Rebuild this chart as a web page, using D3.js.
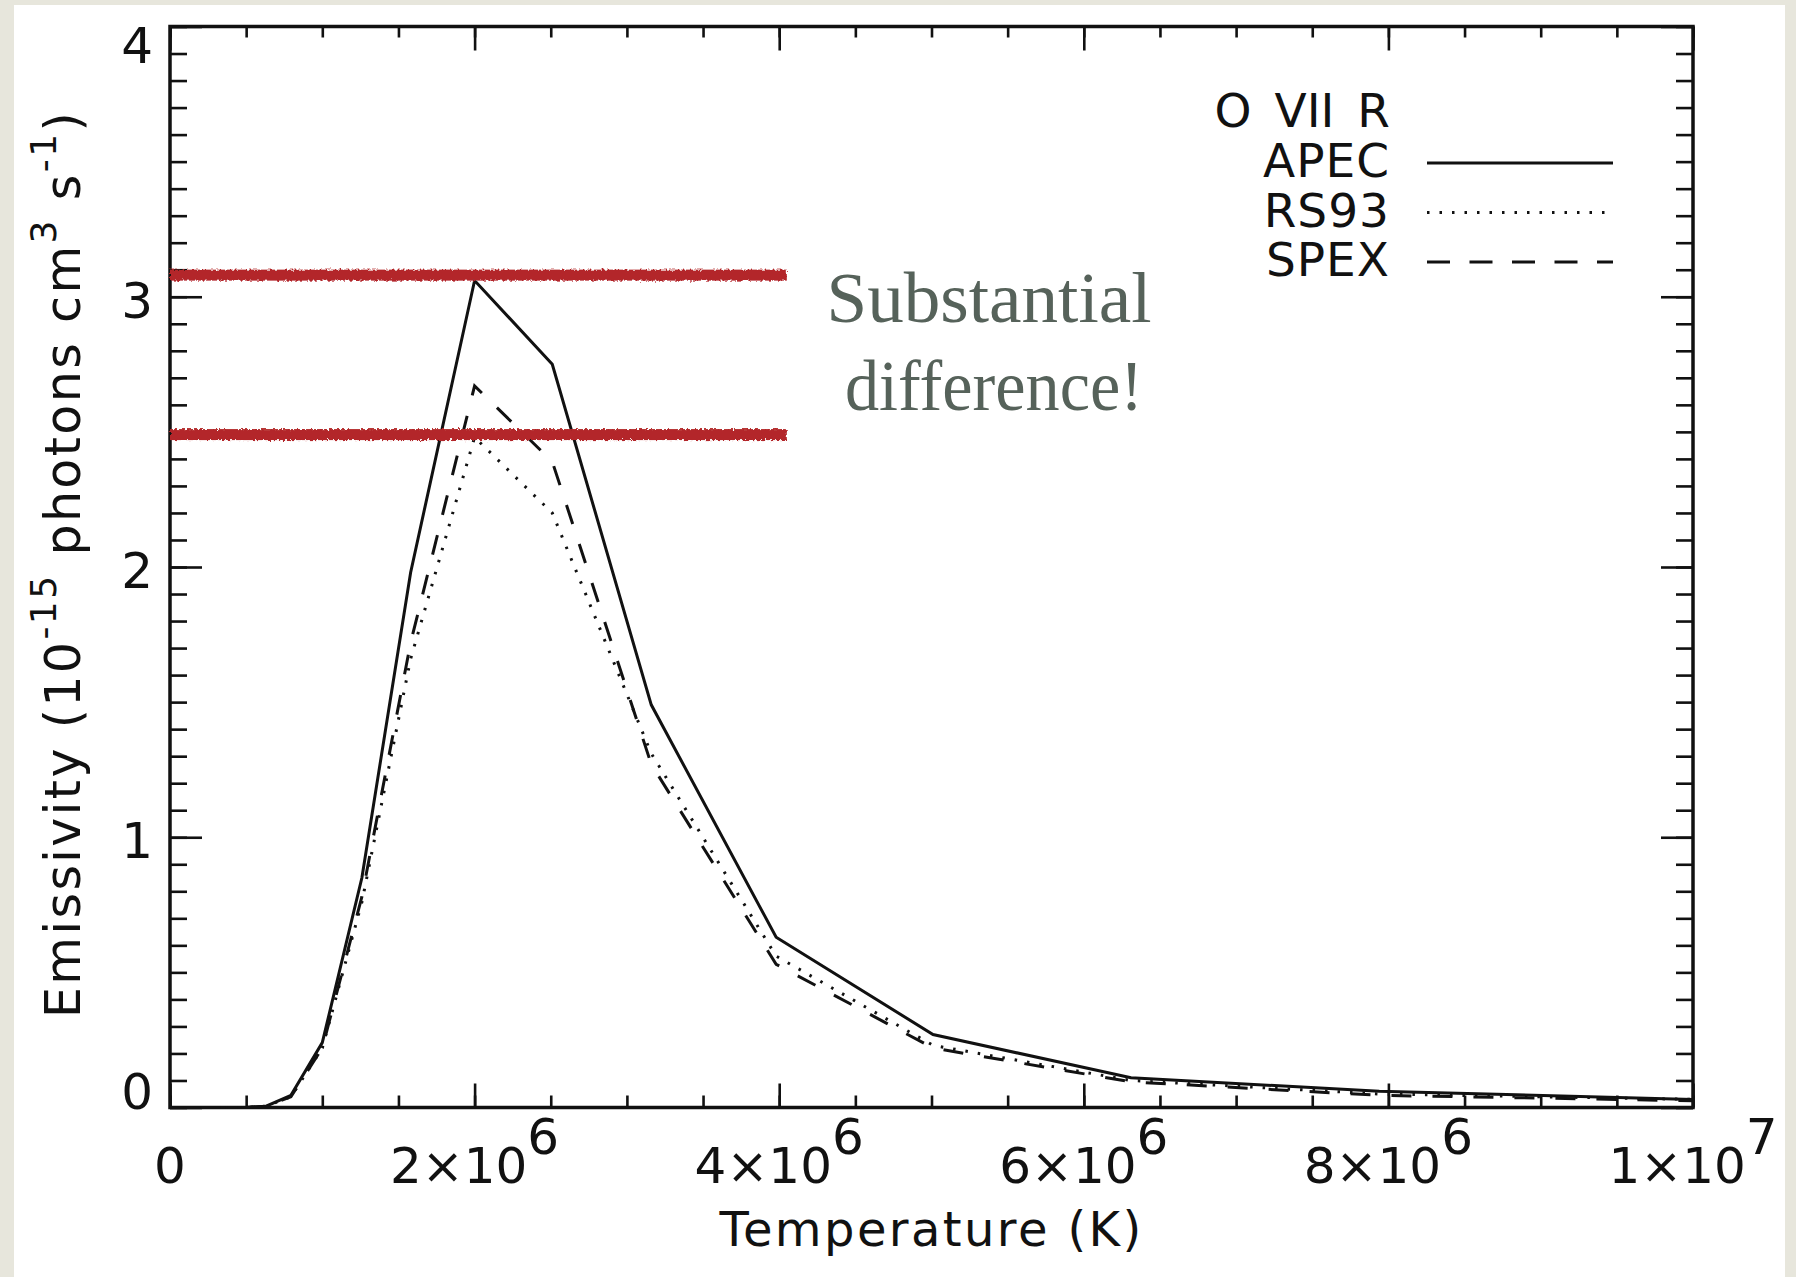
<!DOCTYPE html>
<html>
<head>
<meta charset="utf-8">
<script src="https://cdn.jsdelivr.net/npm/d3@7"></script>
<style>
  body { margin: 0; background: #e7e6dc; }
  svg { display: block; }
  text { font-family: "DejaVu Sans", sans-serif; fill: #111; }
</style>
</head>
<body>
<div id="chart"></div>
<script>
// temperature grid (K) and emissivities (1e-15 photons cm^3 s^-1)
const temps = [2.00e5, 2.51e5, 3.16e5, 3.98e5, 5.01e5, 6.31e5, 7.94e5, 1.00e6, 1.26e6,
               1.58e6, 2.00e6, 2.51e6, 3.16e6, 3.98e6, 5.01e6, 6.31e6, 7.94e6, 1.00e7];
const apec = [0, 0, 0, 0, 0, 0.005, 0.045, 0.24, 0.85, 1.98, 3.06, 2.75, 1.49, 0.63, 0.27, 0.11, 0.06, 0.03];
const rs93 = [0, 0, 0, 0, 0, 0.005, 0.04, 0.22, 0.76, 1.66, 2.48, 2.20, 1.31, 0.56, 0.23, 0.10, 0.05, 0.03];
const spex = [0, 0, 0, 0, 0, 0.005, 0.04, 0.22, 0.78, 1.72, 2.67, 2.39, 1.27, 0.53, 0.22, 0.095, 0.045, 0.025];

const seriesNames = ["APEC", "RS93", "SPEX"];
const legendTitle = "O VII R";

const xMajor = [0, 2e6, 4e6, 6e6, 8e6, 1e7];
const xMajorLabels = [["0", ""], ["2×10", "6"], ["4×10", "6"], ["6×10", "6"], ["8×10", "6"], ["1×10", "7"]];
const yMajor = [0, 1, 2, 3, 4];
const yMajorLabels = ["0", "1", "2", "3", "4"];

// red highlight bands and the note beside them
const bandLevels = [3.08, 2.49];
const bandEnd = 4.05e6;
const noteLines = ["Substantial", "difference!"];

const W = 1796, H = 1277;
const m = {left: 170, right: 1693, top: 26.5, bottom: 1107.5};

const x = d3.scaleLinear().domain([0, 1e7]).range([m.left, m.right]);
const y = d3.scaleLinear().domain([0, 4]).range([m.bottom, m.top]);

const svg = d3.select("#chart").append("svg")
    .attr("width", W)
    .attr("height", H);

// rough edges for the marker strokes
const defs = svg.append("defs");
const rough = defs.append("filter").attr("id", "rough")
    .attr("x", "-2%").attr("y", "-60%").attr("width", "104%").attr("height", "220%");
rough.append("feTurbulence").attr("type", "fractalNoise")
    .attr("baseFrequency", "0.4").attr("numOctaves", 2).attr("result", "noise");
rough.append("feDisplacementMap").attr("in", "SourceGraphic").attr("in2", "noise")
    .attr("scale", 5);

// white slide panel
svg.append("rect")
    .attr("x", 14).attr("y", 5)
    .attr("width", 1771).attr("height", H - 5)
    .attr("fill", "#fff");

// minor / major ticks on all four sides, pointing inward
const xMinor = d3.range(0, 1e7 + 1, 5e5);
const yMinor = d3.range(0, 41).map(d => d / 10);

function styleAxis(g) {
    g.select(".domain").remove();
    g.selectAll(".tick line").attr("stroke", "#111").attr("stroke-width", 2.6);
    g.selectAll(".tick text").remove();
}

svg.append("g").attr("transform", `translate(0,${m.bottom})`)
    .call(d3.axisBottom(x).tickValues(xMinor).tickSize(-12).tickSizeOuter(0)).call(styleAxis);
svg.append("g").attr("transform", `translate(0,${m.bottom})`)
    .call(d3.axisBottom(x).tickValues(xMajor).tickSize(-24).tickSizeOuter(0)).call(styleAxis);
svg.append("g").attr("transform", `translate(0,${m.top})`)
    .call(d3.axisTop(x).tickValues(xMinor).tickSize(-11).tickSizeOuter(0)).call(styleAxis);
svg.append("g").attr("transform", `translate(0,${m.top})`)
    .call(d3.axisTop(x).tickValues(xMajor).tickSize(-24).tickSizeOuter(0)).call(styleAxis);
svg.append("g").attr("transform", `translate(${m.left},0)`)
    .call(d3.axisLeft(y).tickValues(yMinor).tickSize(-17).tickSizeOuter(0)).call(styleAxis);
svg.append("g").attr("transform", `translate(${m.left},0)`)
    .call(d3.axisLeft(y).tickValues(yMajor).tickSize(-32).tickSizeOuter(0)).call(styleAxis);
svg.append("g").attr("transform", `translate(${m.right},0)`)
    .call(d3.axisRight(y).tickValues(yMinor).tickSize(-17).tickSizeOuter(0)).call(styleAxis);
svg.append("g").attr("transform", `translate(${m.right},0)`)
    .call(d3.axisRight(y).tickValues(yMajor).tickSize(-32).tickSizeOuter(0)).call(styleAxis);

// frame
svg.append("rect")
    .attr("x", m.left).attr("y", m.top)
    .attr("width", m.right - m.left).attr("height", m.bottom - m.top)
    .attr("fill", "none").attr("stroke", "#111").attr("stroke-width", 3.5);

// tick labels
const xl = svg.append("g").selectAll("text")
    .data(xMajor)
    .join("text")
    .attr("x", d => x(d))
    .attr("y", 1183)
    .attr("text-anchor", "middle")
    .style("font-size", "50px");
xl.append("tspan").text((d, i) => xMajorLabels[i][0]);
xl.append("tspan").attr("dy", -29).text((d, i) => xMajorLabels[i][1]);

svg.append("g").selectAll("text")
    .data(yMajor)
    .join("text")
    .attr("x", 153)
    .attr("y", d => Math.max(m.top + 18, Math.min(m.bottom - 17, y(d) + 3)) + 18)
    .attr("text-anchor", "end")
    .style("font-size", "50px")
    .text((d, i) => yMajorLabels[i]);

// axis titles
svg.append("text")
    .attr("x", (m.left + m.right) / 2)
    .attr("y", 1246)
    .attr("text-anchor", "middle")
    .style("font-size", "48px")
    .style("letter-spacing", "2.4px")
    .text("Temperature (K)");

const yt = svg.append("text")
    .attr("transform", `translate(80,${(m.top + m.bottom) / 2 - 3}) rotate(-90)`)
    .attr("text-anchor", "middle")
    .style("font-size", "49px")
    .style("letter-spacing", "2.4px");
yt.append("tspan").text("Emissivity (10");
yt.append("tspan").attr("dy", -24).style("font-size", "36px").text("-15");
yt.append("tspan").attr("dy", 24).text(" photons cm");
yt.append("tspan").attr("dy", -24).style("font-size", "36px").text("3");
yt.append("tspan").attr("dy", 24).text(" s");
yt.append("tspan").attr("dy", -24).style("font-size", "36px").text("-1");
yt.append("tspan").attr("dy", 24).text(")");

// data lines
const series = [
    {name: seriesNames[0], values: apec, dash: null},
    {name: seriesNames[1], values: rs93, dash: "2.5,10"},
    {name: seriesNames[2], values: spex, dash: "20,21"}
];

const line = d3.line()
    .x((d, i) => x(temps[i]))
    .y(d => y(d));

const plot = svg.append("g");
plot.selectAll("path")
    .data(series)
    .join("path")
    .attr("d", d => line(d.values))
    .attr("fill", "none")
    .attr("stroke", "#111")
    .attr("stroke-width", 3)
    .attr("stroke-dasharray", d => d.dash);

// red bands
svg.append("g").selectAll("rect")
    .data(bandLevels)
    .join("rect")
    .attr("x", x(0))
    .attr("width", x(bandEnd) - x(0))
    .attr("y", d => y(d) - 5.5)
    .attr("height", 11)
    .attr("fill", "#b3262b")
    .attr("filter", "url(#rough)");

// note
svg.append("g").selectAll("text")
    .data(noteLines)
    .join("text")
    .attr("x", (d, i) => [989, 994][i])
    .attr("y", (d, i) => [322, 410][i])
    .attr("text-anchor", "middle")
    .attr("textLength", (d, i) => [325, 298][i])
    .attr("lengthAdjust", "spacingAndGlyphs")
    .style("font-family", "'Liberation Serif', serif")
    .style("font-size", "71px")
    .style("fill", "#56625a")
    .text(d => d);

// legend
const legend = svg.append("g");
legend.append("text")
    .attr("x", 1390).attr("y", 127)
    .attr("text-anchor", "end")
    .style("font-size", "47px")
    .style("word-spacing", "8px")
    .text(legendTitle);

const rows = legend.selectAll("g.row")
    .data(series)
    .join("g")
    .attr("class", "row")
    .attr("transform", (d, i) => `translate(0,${177 + i * 49.5})`);
rows.append("text")
    .attr("x", 1390)
    .attr("text-anchor", "end")
    .style("font-size", "47px")
    .style("letter-spacing", "1px")
    .text(d => d.name);
rows.append("line")
    .attr("x1", 1427).attr("x2", 1613)
    .attr("y1", -14).attr("y2", -14)
    .attr("stroke", "#111")
    .attr("stroke-width", 3)
    .attr("stroke-dasharray", (d, i) => [null, "2.5,10", "23,19.5"][i]);
</script>
</body>
</html>
